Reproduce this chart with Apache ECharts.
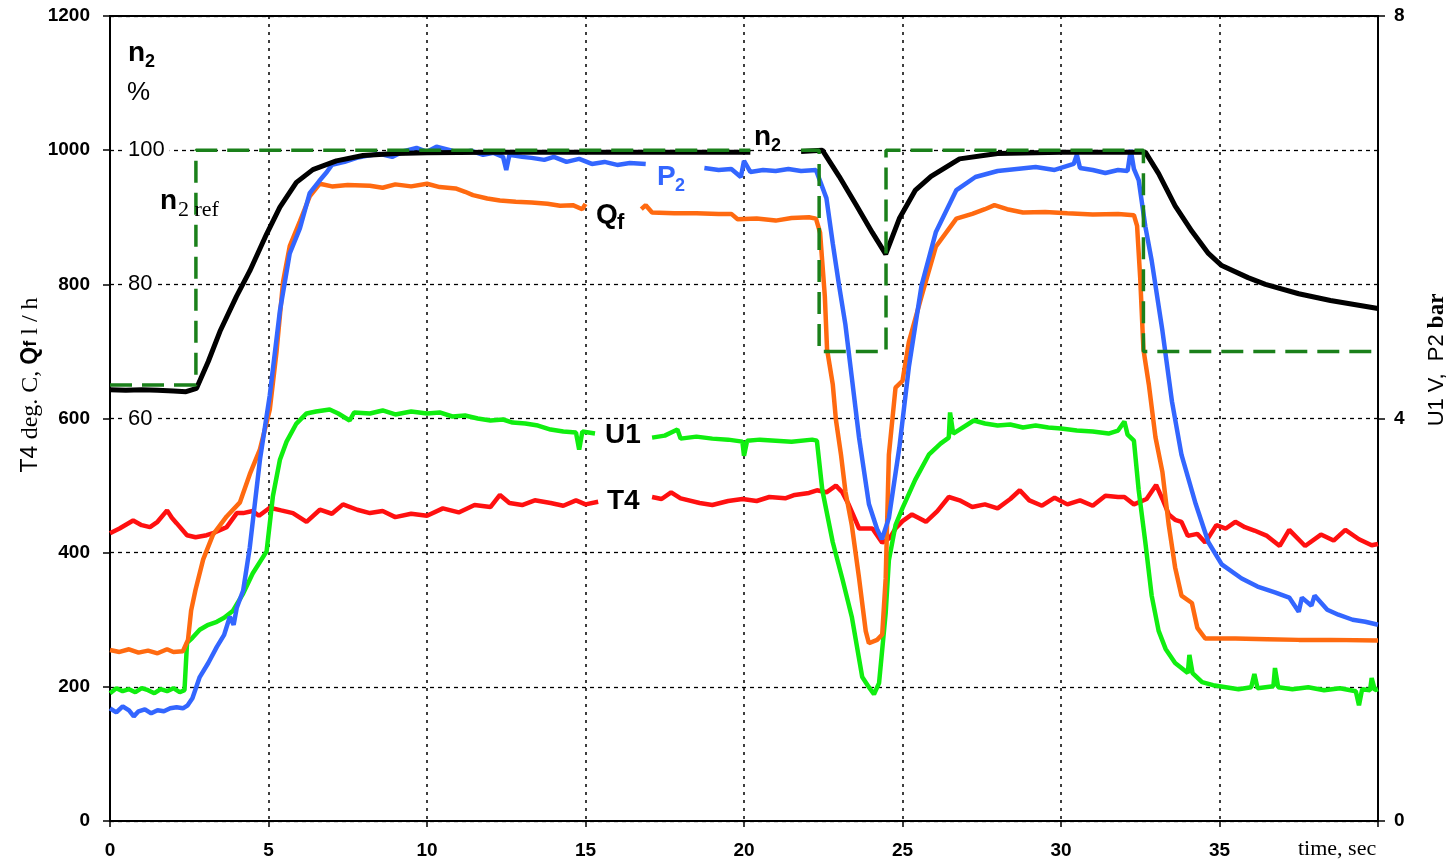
<!DOCTYPE html>
<html>
<head>
    <meta charset="utf-8">
    <title>n2 step response</title>
    <script src="https://cdn.jsdelivr.net/npm/echarts@6/dist/echarts.min.js"></script>
    <style>
        html, body { margin: 0; padding: 0; background: #fff; }
        #chart1 { width: 1452px; height: 865px; }
    </style>
</head>
<body>
<div id="chart1"></div>
<script type="text/javascript">
    // [time sec, value] pairs, null = gap left for a label
    // n2 in %, drawn on the inner % scale
    let n2 = [[0,64.3],[0.5,64.2],[1,64.3],[1.5,64.2],[2,64.1],[2.4,64.0],[2.73,64.5],[3.1,68.5],[3.47,73],[3.99,78.2],[4.41,82],[4.94,87.5],[5.36,91.5],[5.88,95.2],[6.4,97.1],[7.14,98.4],[7.98,99.2],[9,99.5],[10,99.6],[12,99.7],[14,99.7],[16,99.7],[18,99.7],[20.2,99.7],[21,null],[21.8,99.8],[22.47,100],[23.0,96.1],[23.53,91.9],[24.05,87.7],[24.47,84.5],[24.9,89.8],[25.4,94],[25.9,96.1],[26.8,98.7],[28,99.5],[30,99.7],[32.66,99.7],[33.08,96.5],[33.6,91.7],[34.13,87.9],[34.65,84.6],[35.07,82.8],[35.9,81.0],[36.45,80.0],[37.5,78.6],[38.5,77.6],[40,76.4]];
    let n2ref = [[0,65],[2.71,65],[2.71,100],[20.2,100],[21,null],[21.8,100],[22.37,100],[22.37,70],[24.48,70],[24.48,100],[32.6,100],[32.6,70],[40,70]];
    // P2 bar, right scale
    let p2 = [[0,1.12],[0.2,1.08],[0.4,1.14],[0.6,1.10],[0.75,1.04],[0.9,1.09],[1.1,1.11],[1.3,1.07],[1.5,1.10],[1.7,1.09],[1.9,1.12],[2.1,1.13],[2.3,1.12],[2.45,1.15],[2.6,1.22],[2.83,1.43],[3.1,1.57],[3.37,1.73],[3.6,1.85],[3.78,2.03],[3.9,1.95],[4.0,2.12],[4.2,2.29],[4.41,2.72],[4.73,3.59],[5.04,4.23],[5.36,5.07],[5.67,5.64],[5.99,5.89],[6.3,6.24],[6.6,6.36],[6.84,6.45],[7.0,6.52],[7.4,6.55],[7.78,6.59],[8.1,6.61],[8.5,6.63],[8.9,6.60],[9.3,6.66],[9.67,6.69],[10,6.65],[10.3,6.70],[10.7,6.67],[11.0,6.64],[11.4,6.66],[11.77,6.62],[12.1,6.64],[12.4,6.60],[12.5,6.47],[12.6,6.62],[13.0,6.60],[13.3,6.59],[13.7,6.57],[14.0,6.60],[14.4,6.55],[14.8,6.58],[15.2,6.53],[15.6,6.55],[16.0,6.52],[16.4,6.54],[16.9,6.53],[17.8,null],[18.75,6.49],[19.2,6.47],[19.6,6.48],[19.9,6.40],[20.0,6.56],[20.2,6.45],[20.6,6.47],[21.0,6.46],[21.4,6.48],[21.8,6.46],[22.27,6.47],[22.6,6.19],[22.8,5.74],[23.0,5.32],[23.2,4.93],[23.4,4.41],[23.63,3.81],[23.94,3.15],[24.2,2.9],[24.35,2.8],[24.57,3.01],[24.9,3.71],[25.2,4.51],[25.6,5.32],[26.05,5.85],[26.7,6.27],[27.3,6.40],[28,6.46],[28.6,6.48],[29.2,6.50],[29.8,6.47],[30.4,6.53],[30.5,6.62],[30.6,6.49],[31.0,6.47],[31.4,6.44],[31.8,6.47],[32.1,6.46],[32.2,6.67],[32.3,6.48],[32.45,6.37],[32.66,5.91],[32.86,5.57],[33.2,4.87],[33.5,4.17],[33.8,3.64],[34.25,3.15],[34.65,2.77],[35.07,2.55],[35.7,2.41],[36.2,2.33],[36.77,2.27],[37.2,2.22],[37.5,2.08],[37.6,2.22],[37.9,2.14],[38.0,2.24],[38.4,2.10],[38.75,2.05],[39.2,2.00],[39.6,1.98],[40,1.95]];
    // U1 V, right scale
    let u1 = [[0,1.27],[0.2,1.32],[0.4,1.29],[0.6,1.31],[0.8,1.28],[1.0,1.32],[1.2,1.30],[1.4,1.27],[1.6,1.31],[1.8,1.29],[2.0,1.32],[2.2,1.28],[2.35,1.30],[2.43,1.77],[2.6,1.82],[2.83,1.90],[3.1,1.95],[3.37,1.98],[3.6,2.02],[3.88,2.09],[4.2,2.26],[4.5,2.46],[4.94,2.68],[5.14,3.23],[5.36,3.59],[5.57,3.77],[5.88,3.95],[6.2,4.05],[6.5,4.07],[6.93,4.09],[7.2,4.05],[7.56,3.98],[7.7,4.06],[8.2,4.05],[8.6,4.08],[9.0,4.04],[9.5,4.07],[10.0,4.05],[10.4,4.06],[10.8,4.02],[11.2,4.03],[11.6,4.00],[12.0,3.98],[12.4,3.99],[12.7,3.96],[13.1,3.95],[13.5,3.93],[13.9,3.89],[14.3,3.87],[14.7,3.86],[14.8,3.69],[14.9,3.87],[15.3,3.85],[16.2,null],[17.1,3.81],[17.5,3.83],[17.9,3.89],[18.0,3.80],[18.5,3.82],[19.0,3.80],[19.5,3.79],[19.95,3.77],[20.0,3.63],[20.1,3.78],[20.5,3.79],[21.0,3.78],[21.5,3.77],[22.15,3.79],[22.3,3.78],[22.47,3.29],[22.8,2.77],[23.1,2.41],[23.4,2.03],[23.73,1.43],[23.94,1.33],[24.1,1.26],[24.26,1.37],[24.47,2.07],[24.57,2.59],[24.78,2.94],[25.0,3.11],[25.4,3.39],[25.83,3.64],[26.2,3.75],[26.46,3.81],[26.5,4.06],[26.6,3.85],[27.25,3.98],[27.6,3.95],[28.0,3.93],[28.4,3.94],[28.8,3.91],[29.2,3.93],[29.6,3.91],[30.0,3.90],[30.5,3.88],[31.0,3.87],[31.5,3.85],[31.8,3.88],[32.0,3.97],[32.1,3.84],[32.3,3.78],[32.45,3.29],[32.66,2.77],[32.86,2.24],[33.08,1.89],[33.3,1.71],[33.6,1.57],[34.0,1.47],[34.05,1.65],[34.15,1.47],[34.45,1.38],[34.8,1.35],[35.2,1.33],[35.6,1.31],[36.0,1.33],[36.1,1.46],[36.2,1.32],[36.7,1.34],[36.75,1.52],[36.85,1.33],[37.3,1.31],[37.8,1.33],[38.3,1.30],[38.8,1.32],[39.3,1.29],[39.4,1.15],[39.5,1.31],[39.75,1.30],[39.8,1.42],[39.9,1.30],[40,1.31]];
    // Qf l/h, left scale
    let qf = [[0,255],[0.3,252],[0.6,256],[0.9,251],[1.2,254],[1.5,250],[1.8,256],[2.0,252],[2.3,253],[2.46,270],[2.56,314],[2.7,345],[2.94,390],[3.25,427],[3.68,454],[4.1,475],[4.41,517],[4.73,554],[5.04,613],[5.25,698],[5.46,804],[5.67,857],[5.99,894],[6.3,931],[6.62,950],[7.0,946],[7.5,948],[8.2,947],[8.6,944],[9.0,949],[9.5,946],[10.0,950],[10.4,945],[10.9,943],[11.2,938],[11.45,933],[11.9,928],[12.3,925],[12.8,923],[13.3,922],[13.8,920],[14.2,917],[14.6,918],[14.9,912],[15.0,920],[15.9,null],[16.76,912],[16.9,918],[17.1,907],[17.8,906],[18.5,906],[19.2,905],[19.6,905],[19.8,897],[20.4,898],[21.0,895],[21.5,899],[22.05,900],[22.27,898],[22.4,877],[22.55,782],[22.62,703],[22.8,651],[22.9,598],[23.06,546],[23.2,491],[23.4,441],[23.63,362],[23.84,283],[23.94,265],[24.2,270],[24.36,278],[24.47,362],[24.57,546],[24.78,646],[25.0,656],[25.2,714],[25.6,782],[26.05,856],[26.7,898],[27.2,905],[27.6,912],[27.9,918],[28.3,912],[28.8,907],[29.5,908],[30.2,906],[31.0,904],[31.8,905],[32.3,903],[32.4,887],[32.5,808],[32.6,703],[32.77,651],[32.98,572],[33.2,520],[33.4,441],[33.6,378],[33.8,336],[34.13,325],[34.3,288],[34.55,272],[35.5,272],[36.5,271],[37.5,270],[38.5,270],[40,269]];
    // T4 deg C, left scale
    let t4 = [[0,429],[0.3,436],[0.73,448],[1.0,441],[1.26,438],[1.5,446],[1.8,463],[1.95,452],[2.1,444],[2.43,426],[2.7,423],[3.05,426],[3.3,430],[3.68,438],[4.0,459],[4.2,459],[4.5,462],[4.7,455],[5.04,467],[5.4,463],[5.77,459],[6.2,446],[6.62,464],[7.0,458],[7.35,472],[7.8,464],[8.2,459],[8.6,462],[9.0,453],[9.5,458],[10.0,455],[10.5,466],[11.0,460],[11.5,471],[12.0,468],[12.3,486],[12.6,474],[13.0,471],[13.4,478],[13.9,474],[14.3,470],[14.7,478],[15.0,472],[15.4,476],[16.2,null],[17.1,483],[17.4,480],[17.7,490],[18.0,481],[18.6,474],[19.0,471],[19.5,477],[19.95,480],[20.4,477],[20.8,483],[21.3,481],[21.6,486],[22.05,489],[22.3,493],[22.6,490],[22.9,500],[23.1,490],[23.3,472],[23.63,436],[24.05,436],[24.36,415],[24.6,422],[24.78,436],[25.0,447],[25.3,457],[25.74,446],[26.1,462],[26.46,483],[26.8,478],[27.2,468],[27.6,472],[28.0,466],[28.4,480],[28.7,493],[29.0,478],[29.4,470],[29.8,482],[30.2,472],[30.6,478],[31.0,470],[31.4,485],[31.8,483],[32.0,483],[32.3,472],[32.7,480],[33.0,501],[33.2,480],[33.4,457],[33.6,449],[33.8,446],[34.0,425],[34.3,428],[34.55,415],[34.9,441],[35.2,436],[35.5,446],[35.8,438],[36.1,433],[36.5,425],[36.9,410],[37.2,434],[37.7,410],[38.2,427],[38.6,418],[38.97,434],[39.4,420],[39.8,411],[40,413]];

    let pctShown = [60, 80, 100];

    let sans = 'Liberation Sans';
    let serif = 'Liberation Serif';

    function lineSeries(name, data, axis, color, width) {
        return {
            name: name, type: 'line', yAxisIndex: axis, data: data,
            showSymbol: false, symbol: 'none', connectNulls: false,
            lineStyle: {color: color, width: width}
        };
    }

    // plain text label placed on the page
    function label(x, y, text, size, font, bold, color) {
        return {type: 'text', x: x, y: y, z: 10,
            style: {text: text, fontSize: size, fontFamily: font, fontWeight: bold ? 'bold' : 'normal', fill: color || '#000'}};
    }

    let myChart1 = echarts.init(document.getElementById('chart1'));
    myChart1.setOption({
        animation: false,
        textStyle: {fontFamily: sans},
        grid: {left: 110, right: 74, top: 16, bottom: 44, show: true, borderColor: '#000', borderWidth: 2},
        xAxis: {
            type: 'value', min: 0, max: 40, interval: 5,
            axisLine: {lineStyle: {color: '#000', width: 2}},
            axisTick: {length: 6, lineStyle: {color: '#000', width: 1.5}},
            axisLabel: {color: '#000', fontSize: 19, fontWeight: 'bold', margin: 20,
                formatter: v => v === 40 ? '' : String(v)},
            splitLine: {lineStyle: {color: '#000', type: [3, 5], width: 1.5}}
        },
        yAxis: [{
            type: 'value', min: 0, max: 1200, interval: 200, position: 'left',
            axisLine: {show: true, lineStyle: {color: '#000', width: 2}},
            axisTick: {show: true, length: 7, lineStyle: {color: '#000', width: 1.5}},
            axisLabel: {color: '#000', fontSize: 19, fontWeight: 'bold', margin: 20, formatter: v => String(v)},
            splitLine: {lineStyle: {color: '#000', type: [4, 4], width: 1.3}}
        }, {
            type: 'value', min: 0, max: 8, interval: 4, position: 'right',
            axisLine: {show: true, lineStyle: {color: '#000', width: 2}},
            axisTick: {show: true, length: 7, lineStyle: {color: '#000', width: 1.5}},
            axisLabel: {color: '#000', fontSize: 19, fontWeight: 'bold', margin: 16, formatter: v => String(v)},
            splitLine: {show: false}
        }, {
            type: 'value', min: 0, max: 120, interval: 20, position: 'left',
            axisLine: {show: false}, axisTick: {show: false}, splitLine: {show: false},
            axisLabel: {inside: true, margin: 14,
                formatter: v => pctShown.indexOf(v) >= 0 ? '{b|' + v + '}' : '',
                rich: {b: {color: '#000', fontSize: 22, fontFamily: sans, backgroundColor: '#fff', padding: [0, 5, 0, 4]}}}
        }],
        series: [
            lineSeries('T4', t4, 0, '#ff1010', 4.5),
            lineSeries('U1', u1, 1, '#10ee10', 4.5),
            lineSeries('Qf', qf, 0, '#ff6a10', 4.5),
            lineSeries('P2', p2, 1, '#3366ff', 4.5),
            lineSeries('n2', n2, 2, '#000', 5),
            {
                name: 'n2 ref', type: 'line', yAxisIndex: 2, data: n2ref,
                showSymbol: false, symbol: 'none', connectNulls: false,
                lineStyle: {color: '#1a801a', width: 3.5, type: [22, 10]}
            }
        ],
        graphic: [
            label(128, 39, 'n', 28, sans, true),
            label(145, 53, '2', 18, sans, true),
            label(127, 80, '%', 26, sans, false),
            label(160, 187, 'n', 28, sans, true),
            label(178, 199, '2 ref', 22, serif, false),
            label(754, 123, 'n', 28, sans, true),
            label(771, 137, '2', 18, sans, true),
            label(657, 163, 'P', 28, sans, true, '#3366ff'),
            label(675, 177, '2', 18, sans, true, '#3366ff'),
            label(596, 201, 'Q', 28, sans, true),
            label(617, 212, 'f', 22, sans, true),
            label(605, 421, 'U1', 28, sans, true),
            label(607, 487, 'T4', 28, sans, true),
            label(1298, 838, 'time, sec', 22, serif, false),
            {type: 'text', x: 31, y: 385, rotation: Math.PI / 2,
                style: {text: '{a|T4 }{b|deg. C, }{c|Q}{d|f}{b| l / h}', align: 'center', verticalAlign: 'middle',
                    fontFamily: sans, fontSize: 23,
                    rich: {a: {fontSize: 23, fontFamily: sans}, b: {fontSize: 24, fontFamily: serif},
                        c: {fontSize: 23, fontWeight: 'bold', fontFamily: sans}, d: {fontSize: 18, fontWeight: 'bold', fontFamily: sans}}}},
            {type: 'text', x: 1437, y: 360, rotation: Math.PI / 2,
                style: {text: '{a|U1 V,  P2 }{b|bar}', align: 'center', verticalAlign: 'middle',
                    fontFamily: sans, fontSize: 22,
                    rich: {a: {fontSize: 22, fontFamily: sans}, b: {fontSize: 23, fontWeight: 'bold', fontFamily: serif}}}}
        ]
    });
</script>
</body>
</html>
